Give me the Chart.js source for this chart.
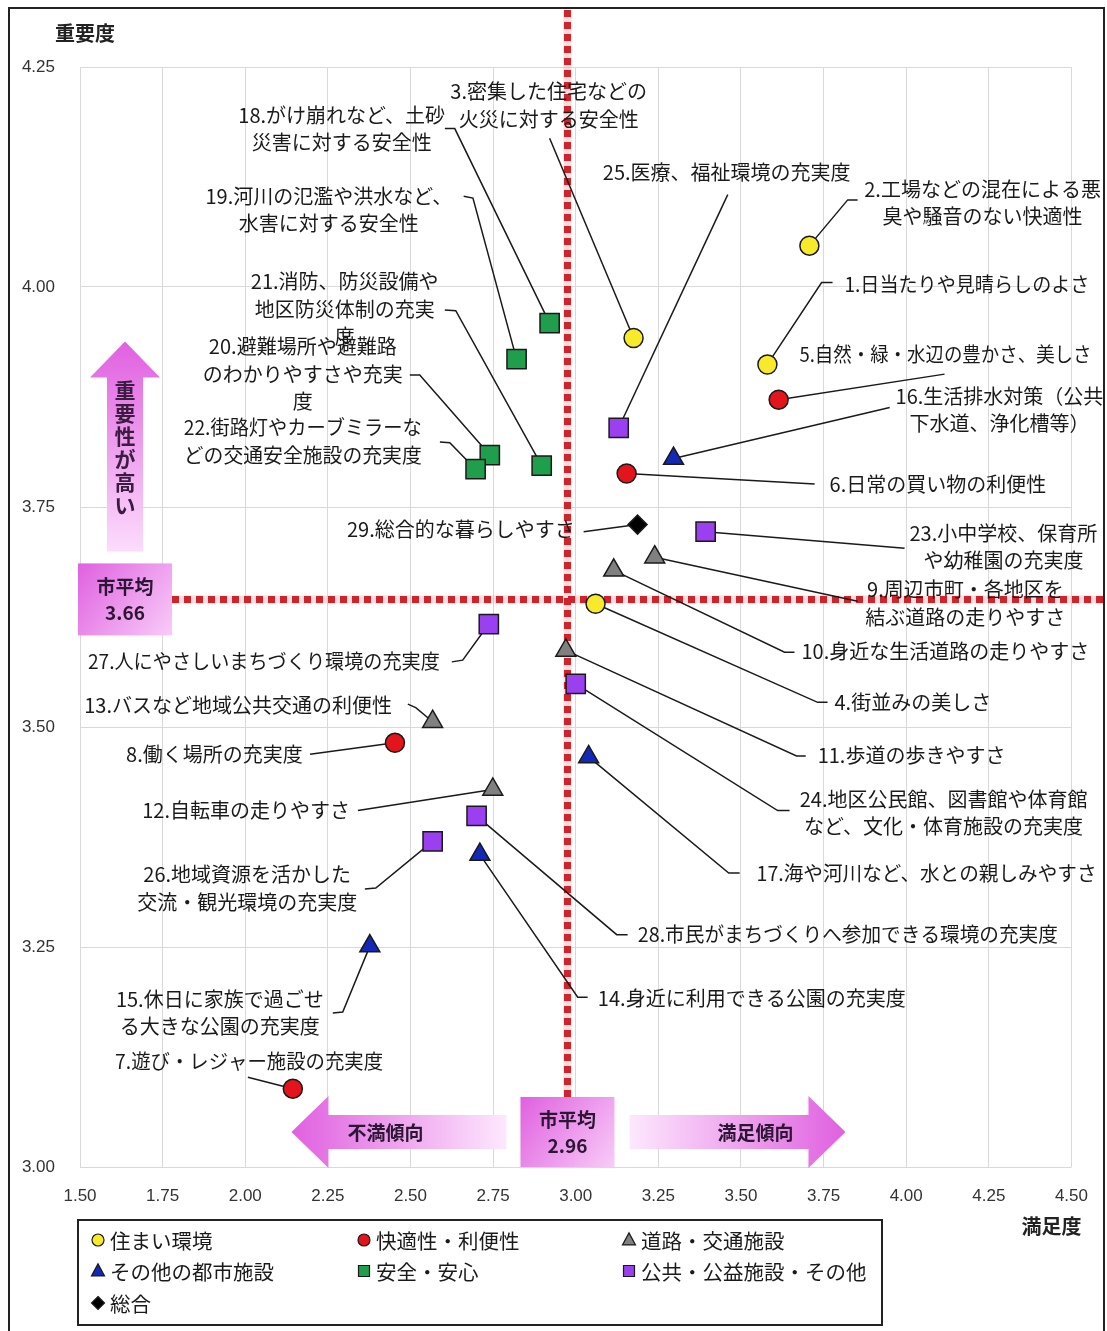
<!DOCTYPE html>
<html lang="ja">
<head>
<meta charset="UTF-8">
<title>重要度・満足度</title>
<script src="https://cdn.jsdelivr.net/npm/chart.js"></script>
<style>
  body { margin: 0; background: #fff; overflow: hidden; }
  .wrap { position: relative; width: 1107px; height: 1331px; }
</style>
</head>
<body>
<div class="wrap"><canvas id="chart"></canvas></div>
<script>
// --- data: item numbers, 満足度 (x) and 重要度 (y) per group ---
const sumaiNo = [1, 2, 3, 4];
const sumaiX = [3.58, 3.707, 3.175, 3.06];
const sumaiY = [3.912, 4.047, 3.942, 3.64];

const kaitekiNo = [5, 6, 7, 8];
const kaitekiX = [3.614, 3.154, 2.144, 2.453];
const kaitekiY = [3.872, 3.788, 3.089, 3.482];

const doroNo = [9, 10, 11, 12, 13];
const doroX = [3.239, 3.115, 2.97, 2.749, 2.567];
const doroY = [3.693, 3.678, 3.587, 3.429, 3.506];

const toshiNo = [14, 15, 16, 17];
const toshiX = [2.71, 2.377, 3.296, 3.039];
const toshiY = [3.355, 3.251, 3.805, 3.466];

const anzenNo = [18, 19, 20, 21, 22];
const anzenX = [2.921, 2.821, 2.74, 2.897, 2.697];
const anzenY = [3.959, 3.918, 3.809, 3.797, 3.793];

const kokyoNo = [23, 24, 25, 26, 27, 28];
const kokyoX = [3.393, 3.0, 3.13, 2.567, 2.737, 2.7];
const kokyoY = [3.722, 3.549, 3.84, 3.37, 3.617, 3.399];

const sogoNo = [29];
const sogoX = [3.187];
const sogoY = [3.73];

// 市平均 reference lines (drawn position) and their printed values
const avgLineX = 2.975, avgLineY = 3.645;
const avgTextX = '2.96', avgTextY = '3.66';

const xTicks = { min: 1.5, max: 4.5, step: 0.25 };
const yTicks = { min: 3.0, max: 4.25, step: 0.25 };

const labelText = {
  1: ['1.日当たりや見晴らしのよさ'],
  2: ['2.工場などの混在による悪', '臭や騒音のない快適性'],
  3: ['3.密集した住宅などの', '火災に対する安全性'],
  4: ['4.街並みの美しさ'],
  5: ['5.自然・緑・水辺の豊かさ、美しさ'],
  6: ['6.日常の買い物の利便性'],
  7: ['7.遊び・レジャー施設の充実度'],
  8: ['8.働く場所の充実度'],
  9: ['9.周辺市町・各地区を', '結ぶ道路の走りやすさ'],
  10: ['10.身近な生活道路の走りやすさ'],
  11: ['11.歩道の歩きやすさ'],
  12: ['12.自転車の走りやすさ'],
  13: ['13.バスなど地域公共交通の利便性'],
  14: ['14.身近に利用できる公園の充実度'],
  15: ['15.休日に家族で過ごせ', 'る大きな公園の充実度'],
  16: ['16.生活排水対策（公共', '下水道、浄化槽等）'],
  17: ['17.海や河川など、水との親しみやすさ'],
  18: ['18.がけ崩れなど、土砂', '災害に対する安全性'],
  19: ['19.河川の氾濫や洪水など、', '水害に対する安全性'],
  20: ['20.避難場所や避難路', 'のわかりやすさや充実', '度'],
  21: ['21.消防、防災設備や', '地区防災体制の充実', '度'],
  22: ['22.街路灯やカーブミラーな', 'どの交通安全施設の充実度'],
  23: ['23.小中学校、保育所', 'や幼稚園の充実度'],
  24: ['24.地区公民館、図書館や体育館', 'など、文化・体育施設の充実度'],
  25: ['25.医療、福祉環境の充実度'],
  26: ['26.地域資源を活かした', '交流・観光環境の充実度'],
  27: ['27.人にやさしいまちづくり環境の充実度'],
  28: ['28.市民がまちづくりへ参加できる環境の充実度'],
  29: ['29.総合的な暮らしやすさ']
};

// label placement (axis units) and leader-line bends
const labelLayout = {
  1: { align: 'left', x: 3.813, y: 4.003, w: 245, lead: [[3.777, 4.005], [3.744, 4.005]] },
  2: { align: 'center', x: 4.231, y: 4.111, lead: [[3.853, 4.099], [3.823, 4.099]] },
  3: { align: 'center', x: 2.918, y: 4.222, lead: [[2.921, 4.169]] },
  4: { align: 'left', x: 3.783, y: 3.528, lead: [[3.762, 3.528], [3.732, 3.528]] },
  5: { align: 'left', x: 3.677, y: 3.923, w: 292, lead: [[4.116, 3.901]] },
  6: { align: 'left', x: 3.768, y: 3.776, lead: [[3.723, 3.776]] },
  7: { align: 'left', x: 1.606, y: 3.120, w: 268, lead: [[2.008, 3.102]] },
  8: { align: 'right', x: 2.174, y: 3.469, lead: [[2.196, 3.469]] },
  9: { align: 'center', x: 4.179, y: 3.656, lead: [[3.853, 3.643]] },
  10: { align: 'left', x: 3.683, y: 3.586, lead: [[3.662, 3.585], [3.632, 3.585]] },
  11: { align: 'left', x: 3.732, y: 3.468, lead: [[3.696, 3.467], [3.668, 3.467]] },
  12: { align: 'right', x: 2.317, y: 3.405, lead: [[2.341, 3.405]] },
  13: { align: 'right', x: 2.444, y: 3.524, lead: [[2.492, 3.526], [2.516, 3.522]] },
  14: { align: 'left', x: 3.067, y: 3.192, lead: [[3.036, 3.193], [3.006, 3.193]] },
  15: { align: 'center', x: 1.923, y: 3.191, lead: [[2.265, 3.175], [2.295, 3.176]] },
  16: { align: 'center', x: 4.282, y: 3.876, lead: [[3.950, 3.863]] },
  17: { align: 'left', x: 3.547, y: 3.334, w: 340, lead: [[3.496, 3.334], [3.463, 3.334]] },
  18: { align: 'center', x: 2.292, y: 4.195, lead: [[2.604, 4.180], [2.634, 4.180]] },
  19: { align: 'center', x: 2.253, y: 4.103, lead: [[2.661, 4.103], [2.689, 4.101]] },
  20: { align: 'center', x: 2.174, y: 3.932, lead: [[2.498, 3.900], [2.528, 3.900]] },
  21: { align: 'center', x: 2.301, y: 4.006, lead: [[2.604, 3.974], [2.637, 3.973]] },
  22: { align: 'center', x: 2.174, y: 3.840, w: 238, lead: [[2.589, 3.824], [2.619, 3.823]] },
  23: { align: 'center', x: 4.294, y: 3.720, w: 190, lead: [[3.995, 3.703]] },
  24: { align: 'center', x: 4.113, y: 3.418, lead: [[3.647, 3.405], [3.611, 3.405]] },
  25: { align: 'left', x: 3.082, y: 4.130, lead: [[3.460, 4.105]] },
  26: { align: 'center', x: 2.006, y: 3.332, lead: [[2.362, 3.316], [2.395, 3.317]] },
  27: { align: 'right', x: 2.589, y: 3.575, w: 352, lead: [[2.625, 3.574], [2.658, 3.576]] },
  28: { align: 'left', x: 3.188, y: 3.264, w: 420, lead: [[3.157, 3.264], [3.124, 3.264]] },
  29: { align: 'right', x: 2.997, y: 3.724, lead: [[3.024, 3.722]] }
};

const JP = "'Noto Sans CJK JP', 'Noto Sans', sans-serif";
const PINK = '#e060e0', PALE = '#fcdcfc';

function series(label, nos, xs, ys, style, color, radius) {
  return {
    label, items: nos,
    data: xs.map((v, i) => ({ x: v, y: ys[i] })),
    pointStyle: style, pointRadius: radius, pointHoverRadius: radius,
    backgroundColor: color, borderColor: '#1a1a1a', borderWidth: 1.5
  };
}

function drawMark(ctx, style, cx, cy, r, fill) {
  ctx.beginPath();
  if (style === 'circle') ctx.arc(cx, cy, r, 0, Math.PI * 2);
  else if (style === 'rect') ctx.rect(cx - r, cy - r, 2 * r, 2 * r);
  else if (style === 'triangle') { ctx.moveTo(cx, cy - r * 1.1); ctx.lineTo(cx + r, cy + r * 0.75); ctx.lineTo(cx - r, cy + r * 0.75); ctx.closePath(); }
  else { ctx.moveTo(cx, cy - r); ctx.lineTo(cx + r, cy); ctx.lineTo(cx, cy + r); ctx.lineTo(cx - r, cy); ctx.closePath(); }
  ctx.fillStyle = fill; ctx.fill();
  ctx.lineWidth = 1.2; ctx.strokeStyle = '#1a1a1a'; ctx.stroke();
}

function grad(ctx, x0, y0, x1, y1, c0, c1) {
  const g = ctx.createLinearGradient(x0, y0, x1, y1);
  g.addColorStop(0, c0); g.addColorStop(1, c1);
  return g;
}

function boxes(chart) {
  const { chartArea: ca, scales: { x, y } } = chart;
  const vx = x.getPixelForValue(avgLineX), hy = y.getPixelForValue(avgLineY);
  return {
    vx, hy,
    bx: { l: vx - 47, r: vx + 47, t: ca.bottom - 70, b: ca.bottom },
    by: { l: ca.left - 2, r: ca.left + 92, t: hy - 36, b: hy + 36 }
  };
}

const annotate = {
  id: 'annotate',
  beforeDatasetsDraw(chart) {
    const { ctx, chartArea: ca, scales: { x, y } } = chart;
    const { vx, hy, bx, by } = boxes(chart);
    ctx.save();
    // 市平均 dotted lines
    ctx.lineWidth = 8; ctx.strokeStyle = 'rgba(240,160,160,0.35)';
    ctx.beginPath(); ctx.moveTo(vx, 10); ctx.lineTo(vx, bx.t); ctx.moveTo(by.r, hy); ctx.lineTo(1103, hy); ctx.stroke();
    ctx.lineWidth = 7; ctx.strokeStyle = '#d1232b'; ctx.setLineDash([7, 5]);
    ctx.beginPath(); ctx.moveTo(vx, 10); ctx.lineTo(vx, bx.t); ctx.stroke();
    ctx.beginPath(); ctx.moveTo(by.r, hy); ctx.lineTo(1103, hy); ctx.stroke();
    ctx.setLineDash([]);

    // marker positions by item number
    const pos = {};
    chart.data.datasets.forEach((ds, di) => {
      const meta = chart.getDatasetMeta(di);
      ds.items.forEach((no, i) => { pos[no] = { x: meta.data[i].x, y: meta.data[i].y }; });
    });

    // leader lines
    ctx.strokeStyle = '#1a1a1a'; ctx.lineWidth = 1.5;
    Object.keys(labelLayout).forEach(no => {
      const L = labelLayout[no], p = pos[no];
      if (!p) return;
      ctx.beginPath();
      L.lead.forEach((q, i) => {
        const px = x.getPixelForValue(q[0]), py = y.getPixelForValue(q[1]);
        if (i === 0) ctx.moveTo(px, py); else ctx.lineTo(px, py);
      });
      ctx.lineTo(p.x, p.y);
      ctx.stroke();
    });

    // label text
    ctx.font = '20px ' + JP; ctx.fillStyle = '#1a1a1a'; ctx.textBaseline = 'middle';
    Object.keys(labelText).forEach(no => {
      const L = labelLayout[no];
      const px = x.getPixelForValue(L.x), py = y.getPixelForValue(L.y);
      ctx.textAlign = L.align;
      labelText[no].forEach((line, i) => {
        if (L.w) ctx.fillText(line, px, py + i * 27.5, L.w);
        else ctx.fillText(line, px, py + i * 27.5);
      });
    });
    ctx.restore();
  },
  afterDatasetsDraw(chart) {
    const { ctx } = chart;
    const { bx, by } = boxes(chart);
    ctx.save();
    ctx.textAlign = 'center'; ctx.textBaseline = 'middle';

    // up arrow 重要性が高い
    const ux = (by.l + by.r) / 2, uBot = by.t - 12, uTip = by.t - 222, uHead = uTip + 36;
    ctx.beginPath();
    ctx.moveTo(ux, uTip); ctx.lineTo(ux + 35, uHead); ctx.lineTo(ux + 18, uHead); ctx.lineTo(ux + 18, uBot);
    ctx.lineTo(ux - 18, uBot); ctx.lineTo(ux - 18, uHead); ctx.lineTo(ux - 35, uHead); ctx.closePath();
    ctx.fillStyle = grad(ctx, 0, uTip, 0, uBot, PINK, PALE); ctx.fill();
    ctx.fillStyle = '#3a1c40'; ctx.font = 'bold 21px ' + JP;
    Array.from('重要性が高い').forEach((c, i) => ctx.fillText(c, ux, uTip + 49 + i * 23));

    // left arrow 不満傾向
    const cy = (bx.t + bx.b) / 2;
    const lTip = bx.l - 229, lEnd = bx.l - 14, lHead = lTip + 37;
    ctx.beginPath();
    ctx.moveTo(lTip, cy); ctx.lineTo(lHead, cy - 36); ctx.lineTo(lHead, cy - 17); ctx.lineTo(lEnd, cy - 17);
    ctx.lineTo(lEnd, cy + 17); ctx.lineTo(lHead, cy + 17); ctx.lineTo(lHead, cy + 36); ctx.closePath();
    ctx.fillStyle = grad(ctx, lTip, 0, lEnd, 0, PINK, '#fde8fd'); ctx.fill();
    ctx.fillStyle = '#2b1633'; ctx.font = 'bold 19px ' + JP;
    ctx.fillText('不満傾向', lTip + 94, cy + 1);

    // right arrow 満足傾向
    const rTip = bx.r + 231, rStart = bx.r + 15, rHead = rTip - 37;
    ctx.beginPath();
    ctx.moveTo(rTip, cy); ctx.lineTo(rHead, cy - 36); ctx.lineTo(rHead, cy - 17); ctx.lineTo(rStart, cy - 17);
    ctx.lineTo(rStart, cy + 17); ctx.lineTo(rHead, cy + 17); ctx.lineTo(rHead, cy + 36); ctx.closePath();
    ctx.fillStyle = grad(ctx, rStart, 0, rTip, 0, '#fde8fd', PINK); ctx.fill();
    ctx.fillStyle = '#2b1633';
    ctx.fillText('満足傾向', rTip - 90, cy + 1);

    // 市平均 boxes
    [[bx, avgTextX], [by, avgTextY]].forEach(([b, val]) => {
      ctx.fillStyle = grad(ctx, b.l, b.t, b.r, b.b, PINK, '#f8ccf8');
      ctx.fillRect(b.l, b.t, b.r - b.l, b.b - b.t);
      ctx.fillStyle = '#2b1633'; ctx.font = 'bold 19px ' + JP;
      ctx.fillText('市平均', (b.l + b.r) / 2, b.t + 23);
      ctx.fillText(val, (b.l + b.r) / 2, b.t + 49);
    });
    ctx.restore();
  },
  afterDraw(chart) {
    const { ctx, chartArea: ca } = chart;
    ctx.save();
    // outer frame
    ctx.strokeStyle = '#222'; ctx.lineWidth = 2;
    ctx.strokeRect(9, 8, 1095, 1340);

    // axis titles
    ctx.fillStyle = '#222'; ctx.font = 'bold 20px ' + JP; ctx.textAlign = 'center'; ctx.textBaseline = 'middle';
    ctx.fillText('重要度', ca.left + 5, ca.top - 34);
    ctx.fillText('満足度', ca.right - 20, ca.bottom + 59);

    // legend
    const lx = ca.left - 2, ly = ca.bottom + 53;
    ctx.strokeStyle = '#222'; ctx.lineWidth = 2;
    ctx.strokeRect(lx, ly, 804, 105);
    const cols = [20, 286, 551], rows = [20, 51, 83];
    ctx.font = '20.5px ' + JP; ctx.textAlign = 'left';
    chart.data.datasets.forEach((ds, i) => {
      const mx = lx + cols[i % 3], my = ly + rows[Math.floor(i / 3)];
      const r = ds.pointStyle === 'circle' ? 6 : ds.pointStyle === 'rect' ? 5.5 : 6.5;
      drawMark(ctx, ds.pointStyle, mx, my, r, ds.backgroundColor);
      ctx.fillStyle = '#1a1a1a';
      ctx.fillText(ds.label, mx + 12, my + 1);
    });
    ctx.restore();
  }
};

const tickFont = { family: "'Liberation Sans', Arial, sans-serif", size: 17 };

new Chart(document.getElementById('chart'), {
  type: 'scatter',
  data: {
    datasets: [
      series('住まい環境', sumaiNo, sumaiX, sumaiY, 'circle', '#f7ea2a', 9.5),
      series('快適性・利便性', kaitekiNo, kaitekiX, kaitekiY, 'circle', '#e3141b', 9.5),
      series('道路・交通施設', doroNo, doroX, doroY, 'triangle', '#808080', 11.5),
      series('その他の都市施設', toshiNo, toshiX, toshiY, 'triangle', '#1428b8', 11.5),
      series('安全・安心', anzenNo, anzenX, anzenY, 'rect', '#1f9e4b', 13.6),
      series('公共・公益施設・その他', kokyoNo, kokyoX, kokyoY, 'rect', '#9a40f0', 13.6),
      series('総合', sogoNo, sogoX, sogoY, 'rectRot', '#000000', 9.5)
    ]
  },
  options: {
    responsive: true,
    maintainAspectRatio: false,
    animation: false,
    events: [],
    layout: { padding: { left: 0, top: 67, right: 35, bottom: 114 } },
    plugins: { legend: { display: false }, tooltip: { enabled: false } },
    scales: {
      x: {
        type: 'linear', min: xTicks.min, max: xTicks.max,
        grid: { color: '#d9d9d9', drawTicks: false },
        border: { display: false },
        ticks: { stepSize: xTicks.step, padding: 19, color: '#333', font: tickFont, callback: v => Number(v).toFixed(2) },
        afterFit: s => { s.height = 50; }
      },
      y: {
        type: 'linear', min: yTicks.min, max: yTicks.max,
        grid: { color: '#d9d9d9', drawTicks: false },
        border: { display: false },
        ticks: { stepSize: yTicks.step, padding: 25, color: '#333', font: tickFont, callback: v => Number(v).toFixed(2) },
        afterFit: s => { s.width = 80; }
      }
    }
  },
  plugins: [annotate]
});
</script>
</body>
</html>
